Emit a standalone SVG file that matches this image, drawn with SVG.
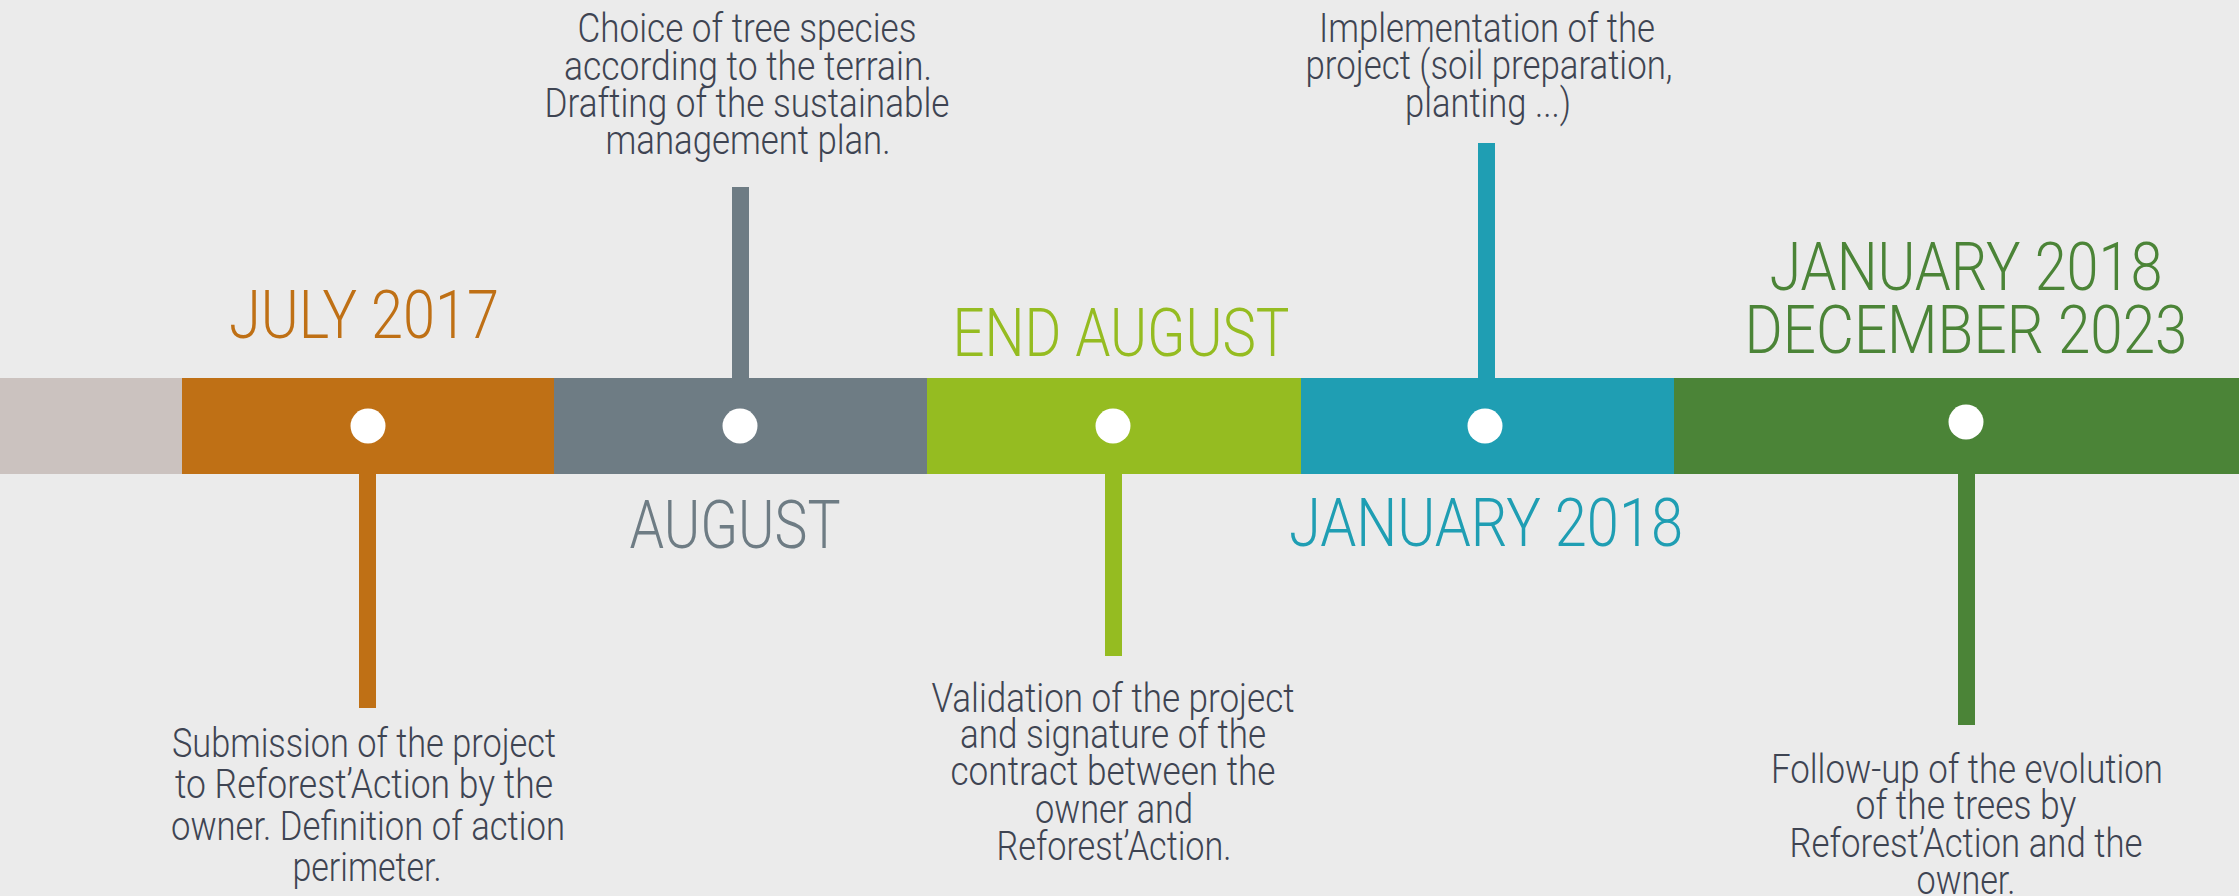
<svg xmlns="http://www.w3.org/2000/svg" width="2239" height="896" viewBox="0 0 2239 896">
  <style>
    .body { font-family: Roboto, "Liberation Sans", sans-serif; font-weight: 300; font-size: 41px; fill: #3e4452; text-anchor: middle; }
    .head { font-family: Roboto, "Liberation Sans", sans-serif; font-weight: 300; font-size: 67px; text-anchor: middle; }
    .dot { fill: #ffffff; }
  </style>
  <rect x="0" y="0" width="2239" height="896" fill="#ebebeb"/>

  <g id="connectors">
    <rect x="359" y="474" width="17" height="234" fill="#bf7015"/>
    <rect x="732" y="187" width="17" height="191" fill="#6e7c84"/>
    <rect x="1105" y="474" width="17" height="182" fill="#95bc21"/>
    <rect x="1478" y="143" width="17" height="235" fill="#1f9eb3"/>
    <rect x="1958" y="474" width="17" height="251" fill="#4b8437"/>
  </g>

  <g id="start">
    <rect x="0" y="378" width="182" height="96" fill="#cbc2bf"/>
  </g>

  <g id="july2017">
    <rect x="182" y="378" width="372" height="96" fill="#bf7015"/>
    <circle class="dot" cx="368" cy="426" r="17.5"/>
    <text class="head" x="364" y="338" fill="#bf7015" textLength="270" lengthAdjust="spacingAndGlyphs">JULY 2017</text>
    <text class="body" y="757" x="364" textLength="384" lengthAdjust="spacingAndGlyphs">Submission of the project</text>
    <text class="body" y="798" x="364" textLength="378" lengthAdjust="spacingAndGlyphs">to Reforest’Action by the</text>
    <text class="body" y="840" x="368" textLength="394" lengthAdjust="spacingAndGlyphs">owner. Definition of action</text>
    <text class="body" y="881" x="367" textLength="149" lengthAdjust="spacingAndGlyphs">perimeter.</text>
  </g>

  <g id="august">
    <rect x="554" y="378" width="373" height="96" fill="#6e7c84"/>
    <circle class="dot" cx="740" cy="426" r="17.5"/>
    <text class="head" x="735" y="548" fill="#6e7c84" textLength="211" lengthAdjust="spacingAndGlyphs">AUGUST</text>
    <text class="body" y="42" x="747" textLength="339" lengthAdjust="spacingAndGlyphs">Choice of tree species</text>
    <text class="body" y="80" x="748" textLength="368" lengthAdjust="spacingAndGlyphs">according to the terrain.</text>
    <text class="body" y="117" x="747" textLength="405" lengthAdjust="spacingAndGlyphs">Drafting of the sustainable</text>
    <text class="body" y="154" x="748" textLength="285" lengthAdjust="spacingAndGlyphs">management plan.</text>
  </g>

  <g id="end-august">
    <rect x="927" y="378" width="374" height="96" fill="#95bc21"/>
    <circle class="dot" cx="1113" cy="426" r="17.5"/>
    <text class="head" x="1121" y="356" fill="#95bc21" textLength="337" lengthAdjust="spacingAndGlyphs">END AUGUST</text>
    <text class="body" y="712" x="1113" textLength="363" lengthAdjust="spacingAndGlyphs">Validation of the project</text>
    <text class="body" y="748" x="1113" textLength="306" lengthAdjust="spacingAndGlyphs">and signature of the</text>
    <text class="body" y="785" x="1113" textLength="325" lengthAdjust="spacingAndGlyphs">contract between the</text>
    <text class="body" y="823" x="1114" textLength="158" lengthAdjust="spacingAndGlyphs">owner and</text>
    <text class="body" y="860" x="1114" textLength="235" lengthAdjust="spacingAndGlyphs">Reforest’Action.</text>
  </g>

  <g id="january2018">
    <rect x="1301" y="378" width="373" height="96" fill="#1f9eb3"/>
    <circle class="dot" cx="1485" cy="426" r="17.5"/>
    <text class="head" x="1486" y="546" fill="#1f9eb3" textLength="394" lengthAdjust="spacingAndGlyphs">JANUARY 2018</text>
    <text class="body" y="42" x="1487" textLength="336" lengthAdjust="spacingAndGlyphs">Implementation of the</text>
    <text class="body" y="79" x="1489" textLength="367" lengthAdjust="spacingAndGlyphs">project (soil preparation,</text>
    <text class="body" y="117" x="1488" textLength="166" lengthAdjust="spacingAndGlyphs">planting ...)</text>
  </g>

  <g id="jan2018-dec2023">
    <rect x="1674" y="378" width="565" height="96" fill="#4b8437"/>
    <circle class="dot" cx="1966" cy="422" r="17.5"/>
    <text class="head" x="1966" y="290" fill="#4b8437" textLength="393" lengthAdjust="spacingAndGlyphs">JANUARY 2018</text>
    <text class="head" x="1966" y="353" fill="#4b8437" textLength="443" lengthAdjust="spacingAndGlyphs">DECEMBER 2023</text>
    <text class="body" y="783" x="1967" textLength="392" lengthAdjust="spacingAndGlyphs">Follow-up of the evolution</text>
    <text class="body" y="819" x="1966" textLength="221" lengthAdjust="spacingAndGlyphs">of the trees by</text>
    <text class="body" y="857" x="1966" textLength="353" lengthAdjust="spacingAndGlyphs">Reforest’Action and the</text>
    <text class="body" y="894" x="1966" textLength="99" lengthAdjust="spacingAndGlyphs">owner.</text>
  </g>
</svg>
